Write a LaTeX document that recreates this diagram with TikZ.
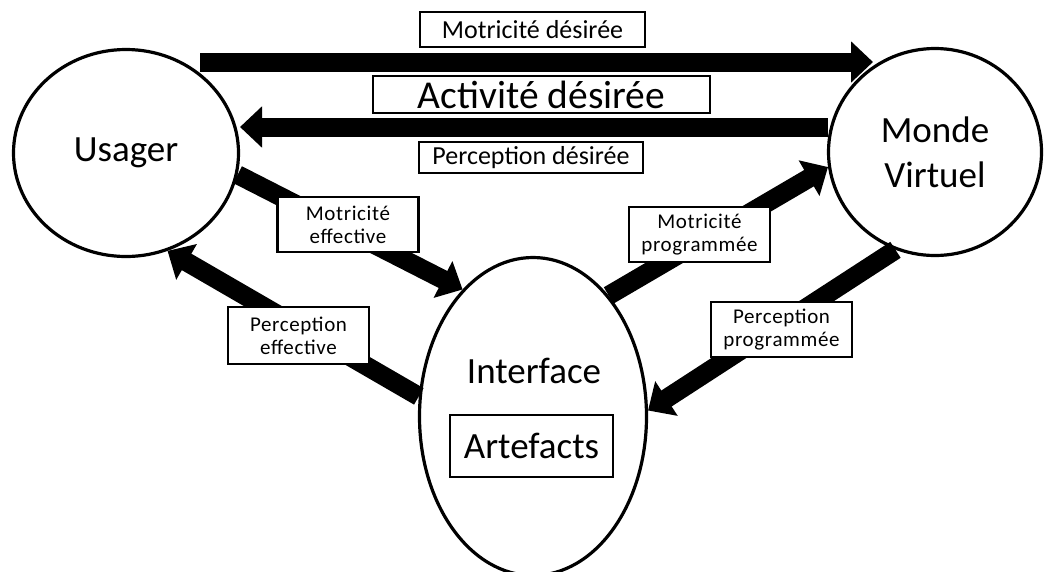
\documentclass[tikz,border=0pt]{standalone}
\usepackage{fontspec}
\setmainfont{Carlito}
\usetikzlibrary{arrows.meta,shapes.geometric}
\begin{document}
\begin{tikzpicture}[x=1pt,y=-1pt,
  blob/.style={ellipse, draw, line width=3.2pt, fill=white, inner sep=0pt},
  bigfont/.style={font=\fontsize{37}{45}\selectfont},
  bigarrow/.style={line width=19pt, -{Triangle[length=22pt,width=40pt]}},
  lbl/.style={draw, line width=2.4pt, fill=white, inner sep=0pt, align=center},
  smalllbl/.style={lbl, minimum width=141pt, minimum height=55pt,
    font=\fontsize{21}{23}\selectfont\addfontfeature{LetterSpace=3}},
  toplbl/.style={lbl, font=\fontsize{26}{30}\selectfont}]
\useasboundingbox (0,0) rectangle (1046,571);
% main nodes
\node[blob, bigfont, minimum width=225pt, minimum height=207pt] (usager) at (126,153) {Usager};
\node[blob, bigfont, align=center, minimum width=213pt, minimum height=207pt] (monde) at (935,152) {Monde\\Virtuel};
\node[blob, minimum width=227pt, minimum height=318pt] (interface) at (533,416.5) {};
\node[bigfont, anchor=base, inner sep=0pt] (itxt) at (534,383) {Interface};
\node[lbl, bigfont, line width=2.2pt, minimum width=163pt, minimum height=62pt] (art) at (531.5,446) {Artefacts};
% arrows
\coordinate (mdA) at (200,62);
\coordinate (mdB) at (873,62);
\coordinate (pdA) at (828,127);
\coordinate (pdB) at (240,127);
\draw[bigarrow] (mdA) -- (mdB);
\draw[bigarrow] (pdA) -- (pdB);
\draw[bigarrow] (usager.-11.8) -- (interface.119.6);
\draw[bigarrow] (interface.170.5) -- (usager.-67.5);
\draw[bigarrow] (interface.58.2) -- (monde.188.4);
\draw[bigarrow] (monde.248.5) -- (interface.3);
% labels
\node[toplbl, minimum width=225pt, minimum height=35pt] (md) at (532.5,29.5) {Motricité désirée};
\node[lbl, font=\fontsize{39.5}{44}\selectfont, minimum width=337pt, minimum height=37pt] (ad) at (541.5,94.5) {Activité désirée};
\node[toplbl, minimum width=224pt, minimum height=31pt] (pd) at (531,157.5) {Perception désirée};
\node[smalllbl] (me) at (348,224.5) {Motricité\\effective};
\node[smalllbl, minimum height=57pt] (pe) at (298.5,335.5) {Perception\\effective};
\node[smalllbl] (mp) at (699.5,234.5) {Motricité\\programmée};
\node[smalllbl] (pp) at (781.5,329.5) {Perception\\programmée};
\end{tikzpicture}
\end{document}
